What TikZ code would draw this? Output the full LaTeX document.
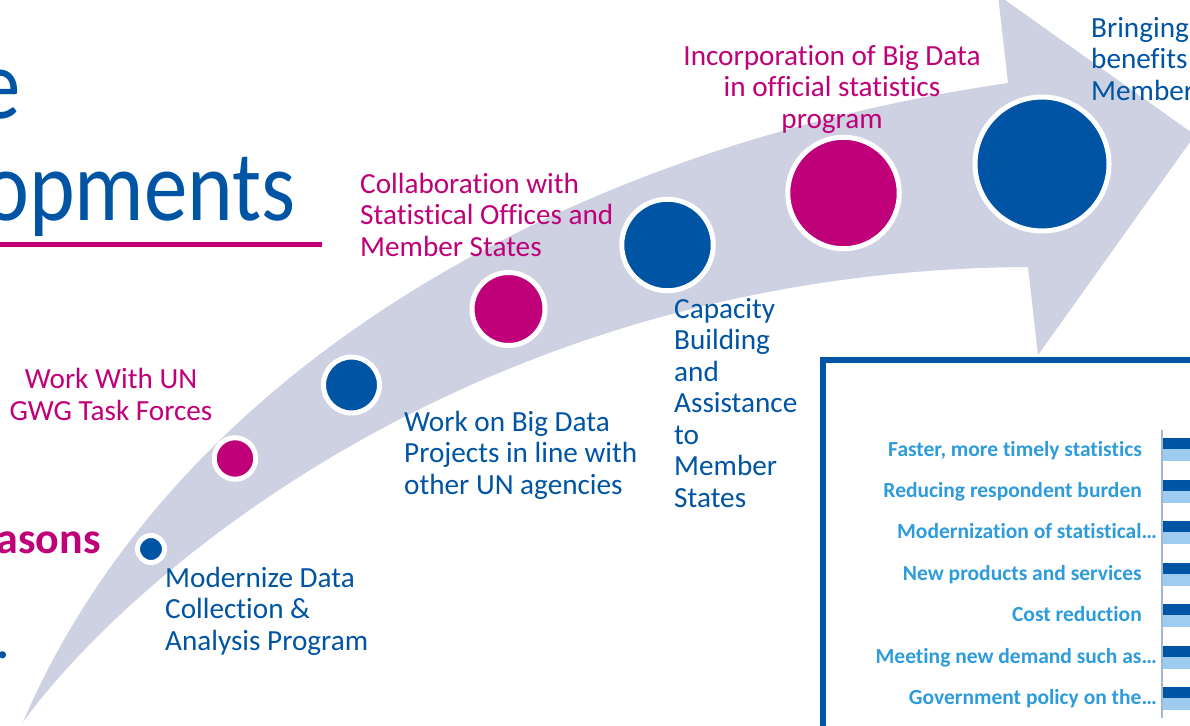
\documentclass[tikz,border=0pt]{standalone}
\usepackage{fontspec}
\setmainfont{Carlito}[Ligatures=NoCommon]
\usepackage{graphicx}
\definecolor{unblue}{RGB}{0,84,164}
\definecolor{unmag}{RGB}{192,0,120}
\definecolor{bandgray}{RGB}{205,209,226}
\definecolor{chartlbl}{RGB}{46,156,219}
\definecolor{barlight}{RGB}{157,204,240}
\definecolor{axisc}{RGB}{160,182,210}
\begin{document}
\begin{tikzpicture}[x=1pt,y=-1pt,
  lbl/.style={inner sep=0pt, font=\fontsize{29.2}{31.5}\selectfont},
  bluelbl/.style={lbl, text=unblue, align=left, anchor=base west},
  maglbl/.style={lbl, text=unmag},
  milestone/.style={circle, inner sep=0pt, fill=#1, draw=white, line width=5pt},
  chartlabel/.style={anchor=base east, inner sep=0pt, text=chartlbl, font=\bfseries\fontsize{21.5}{22}\selectfont},
  titletext/.style={anchor=base east, inner sep=0pt, text=unblue, font=\fontsize{100}{100}\selectfont}
]
\useasboundingbox (0,0) rectangle (1190,725);
\clip (0,0) rectangle (1190,725);
\fill[white] (0,0) rectangle (1190,725);

% curved arrow band
\fill[bandgray] (23,722) .. controls (130,575) and (480,270) .. (1028,267)
  -- (1038,355) -- (1195,135) -- (998,-5) -- (1008,83)
  .. controls (550,150) and (170,380) .. (23,722) -- cycle;

% chart box
\draw[unblue, line width=6pt, fill=white] (823,360) rectangle (1300,800);
\draw[axisc, line width=2pt] (1162,430) -- (1162,718);
\foreach \c in {449,490.5,532,573.5,615,656.5,698}{
  \fill[unblue] (1163,\c-11) rectangle (1195,\c);
  \fill[barlight] (1163,\c) rectangle (1195,\c+12);
}
\node[chartlabel] (c1) at (1142,456) {Faster, more timely statistics};
\node[chartlabel] (c2) at (1142,497) {Reducing respondent burden};
\node[chartlabel] (c3) at (1157,538.5) {Modernization of statistical…};
\node[chartlabel] (c4) at (1142,580) {New products and services};
\node[chartlabel] (c5) at (1142,621.5) {Cost reduction};
\node[chartlabel] (c6) at (1157,663) {Meeting new demand such as…};
\node[chartlabel] (c7) at (1157,704.5) {Government policy on the…};

% milestones
\node[milestone=unblue, minimum size=27pt] (m1) at (151,549) {};
\node[milestone=unmag, minimum size=41.5pt] (m2) at (235,458.5) {};
\node[milestone=unblue, minimum size=56pt] (m3) at (351.5,385) {};
\node[milestone=unmag, minimum size=73pt] (m4) at (508.5,309) {};
\node[milestone=unblue, minimum size=91.5pt] (m5) at (667.5,245) {};
\node[milestone=unmag, minimum size=111.5pt] (m6) at (843.5,193) {};
\node[milestone=unblue, minimum size=134pt] (m7) at (1042,164) {};

% title fragments
\node[titletext] (t1) at (21,118) {\scalebox{0.87}[1]{e}};
\node[titletext] (t2) at (296,220) {\scalebox{0.87}[1]{opments}};
\fill[unmag] (0,242) rectangle (322,247);
\node[anchor=base east, inner sep=0pt, text=unmag, font=\bfseries\fontsize{44}{44}\selectfont] (rs) at (101,553) {asons};
\node[anchor=base west, inner sep=0pt, text=unblue, font=\bfseries\fontsize{48}{48}\selectfont] (pd) at (-4,658) {.};

% milestone labels (anchor = baseline of last line)
\node[bluelbl] (l1) at (165,650) {Modernize Data\\Collection \&\\Analysis Program};
\node[maglbl, align=center, anchor=base] (l2) at (111,420) {Work With UN\\GWG Task Forces};
\node[bluelbl] (l3) at (404,494) {Work on Big Data\\Projects in line with\\other UN agencies};
\node[maglbl, align=left, anchor=base west] (l4) at (360,256) {Collaboration with\\Statistical Offices and\\Member States};
\node[bluelbl] (l5) at (674,507) {Capacity\\Building\\and\\Assistance\\to\\Member\\States};
\node[maglbl, align=center, anchor=base] (l6) at (832,128) {Incorporation of Big Data\\in official statistics\\program};
\node[bluelbl] (l7) at (1091,100) {Bringing\\benefits\\Member};
\end{tikzpicture}
\end{document}
